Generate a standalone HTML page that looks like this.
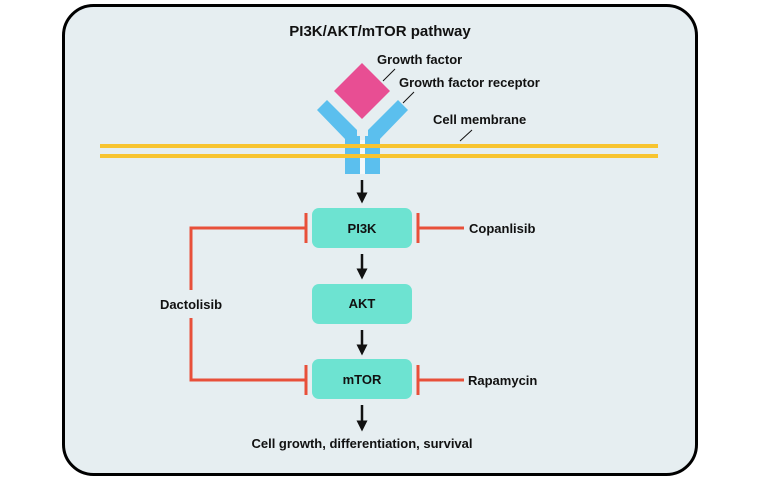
<!DOCTYPE html>
<html><head><style>
body{margin:0;background:#fff;width:760px;height:480px;overflow:hidden}
svg text{font-family:"Liberation Sans",sans-serif;font-weight:bold;fill:#111}
</style></head><body>
<svg width="760" height="480" viewBox="0 0 760 480">
<defs><marker id="a" markerWidth="11" markerHeight="11" refX="5.5" refY="5.5" orient="auto" markerUnits="userSpaceOnUse"><path d="M0,0 L11,5.5 L0,11 z" fill="#111"/></marker></defs>
<rect x="63.5" y="5.5" width="633" height="469" rx="30" fill="#e6eef1" stroke="#000" stroke-width="3"/>
<text x="380" y="36" font-size="15" text-anchor="middle">PI3K/AKT/mTOR pathway</text>
<!-- receptor -->
<g fill="#5bbfee">
<polygon points="317,110 327,100 357,130 357,140 346,140"/>
<polygon points="408,110 398,100 368,130 368,140 379,140"/>
<rect x="345" y="136" width="15" height="38"/>
<rect x="365" y="136" width="15" height="38"/>
</g>
<rect x="360" y="140" width="5" height="34" fill="#f4f8fa"/>
<rect x="100" y="144" width="558" height="4" fill="#f7c430"/>
<rect x="100" y="154" width="558" height="4" fill="#f7c430"/>
<polygon points="362,63 390,91 362,119 334,91" fill="#e84e93"/>
<line x1="383" y1="81" x2="395" y2="69" stroke="#111" stroke-width="1"/>
<line x1="403" y1="103" x2="414" y2="92" stroke="#111" stroke-width="1"/>
<line x1="460" y1="141" x2="472" y2="130" stroke="#111" stroke-width="1"/>
<text x="377" y="64" font-size="13">Growth factor</text>
<text x="399" y="87" font-size="13">Growth factor receptor</text>
<text x="433" y="124" font-size="13">Cell membrane</text>
<!-- arrows -->
<g stroke="#111" stroke-width="2.5">
<line x1="362" y1="180" x2="362" y2="198" marker-end="url(#a)"/>
<line x1="362" y1="254" x2="362" y2="274" marker-end="url(#a)"/>
<line x1="362" y1="330" x2="362" y2="350" marker-end="url(#a)"/>
<line x1="362" y1="405" x2="362" y2="426" marker-end="url(#a)"/>
</g>
<!-- boxes -->
<g fill="#6de3d1">
<rect x="312" y="208" width="100" height="40" rx="7"/>
<rect x="312" y="284" width="100" height="40" rx="7"/>
<rect x="312" y="359" width="100" height="40" rx="7"/>
</g>
<text x="362" y="233" font-size="13" text-anchor="middle">PI3K</text>
<text x="362" y="308" font-size="13" text-anchor="middle">AKT</text>
<text x="362" y="384" font-size="13" text-anchor="middle">mTOR</text>
<!-- inhibitors -->
<g stroke="#e8503a" stroke-width="3" fill="none">
<polyline points="306,228 191,228 191,290"/>
<polyline points="191,318 191,380 306,380"/>
<line x1="306" y1="213" x2="306" y2="243"/>
<line x1="306" y1="365" x2="306" y2="395"/>
<line x1="418" y1="213" x2="418" y2="243"/>
<line x1="418" y1="228" x2="464" y2="228"/>
<line x1="418" y1="365" x2="418" y2="395"/>
<line x1="418" y1="380" x2="464" y2="380"/>
</g>
<text x="191" y="309" font-size="13" text-anchor="middle">Dactolisib</text>
<text x="469" y="233" font-size="13">Copanlisib</text>
<text x="468" y="385" font-size="13">Rapamycin</text>
<text x="362" y="448" font-size="13" text-anchor="middle">Cell growth, differentiation, survival</text>
</svg>
</body></html>
